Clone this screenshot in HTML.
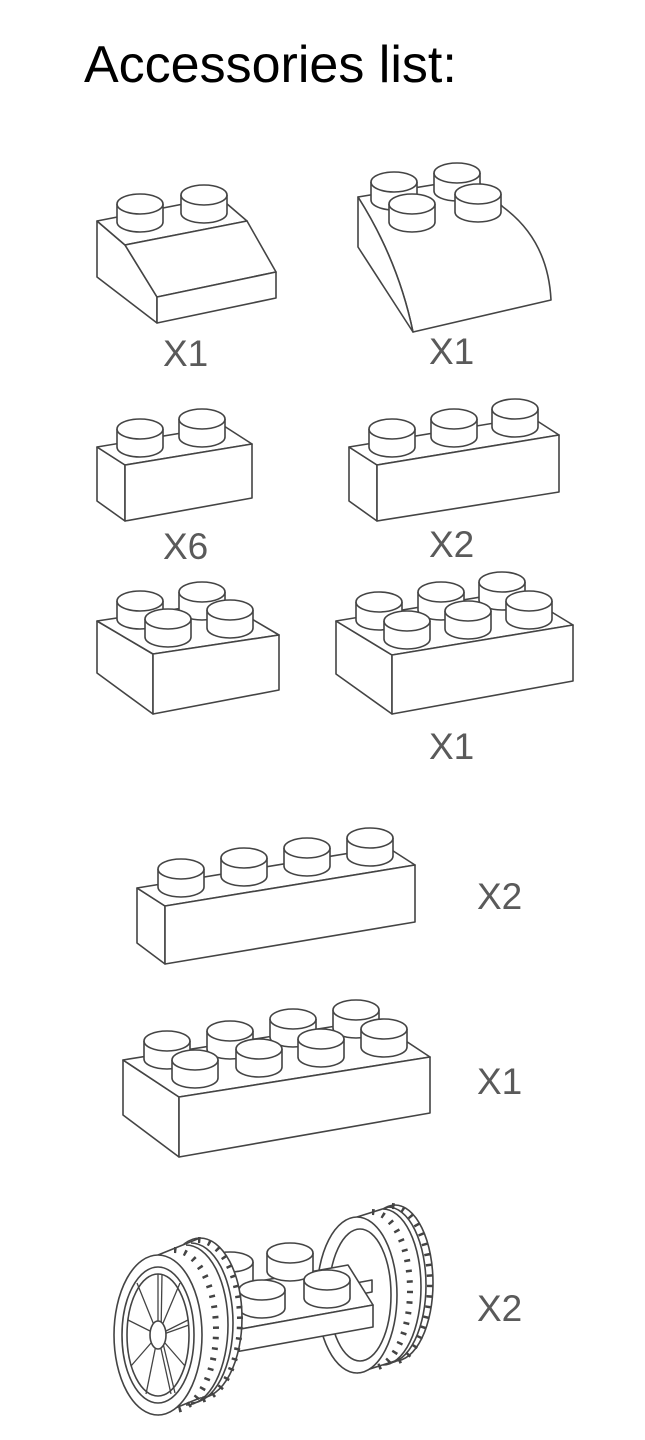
<!DOCTYPE html>
<html><head><meta charset="utf-8"><style>
html,body{margin:0;padding:0;background:#fff}
svg{display:block}
</style></head><body>
<svg width="645" height="1440" viewBox="0 0 645 1440" xmlns="http://www.w3.org/2000/svg">
<defs>
<g id="s"><path d="M-23 0V18A23 10 0 0 0 23 18V0" fill="#fff"/><ellipse rx="23" ry="10" fill="#fff"/></g>
</defs>
<text x="84" y="82" font-family="Liberation Sans, sans-serif" font-size="52" fill="#000">Accessories list:</text>
<g font-family="Liberation Sans, sans-serif" font-size="37" fill="#5a5a5a">
<text x="163" y="366">X1</text>
<text x="429" y="364">X1</text>
<text x="163" y="559">X6</text>
<text x="429" y="557">X2</text>
<text x="429" y="759">X1</text>
<text x="477" y="909">X2</text>
<text x="477" y="1094">X1</text>
<text x="477" y="1321">X2</text>
</g>
<g fill="#fff" stroke="#444" stroke-width="1.6" stroke-linejoin="round">
<!-- brick 1 slope -->
<polygon points="97,221 125,245 157,297 157,323 97,277"/>
<polygon points="97,221 219,197 247,221 125,245"/>
<polygon points="125,245 247,221 276,272 157,297"/>
<polygon points="157,297 276,272 276,298 157,323"/>
<use href="#s" x="140" y="204"/><use href="#s" x="204" y="195"/>
<!-- brick 2 curved -->
<path d="M358,197 L475,178 L503,207 Q548,240 551,300 L413,332 Q398,260 358,197 Z"/>
<path d="M358,197 L358,247 L413,332 Q398,260 358,197 Z"/>
<use href="#s" x="394" y="182"/><use href="#s" x="457" y="173"/>
<use href="#s" x="412" y="204"/><use href="#s" x="478" y="194"/>
<!-- brick 3 -->
<polygon points="97,447 125,465 125,521 97,501"/>
<polygon points="97,447 224,426 252,444 125,465"/>
<polygon points="125,465 252,444 252,498 125,521"/>
<use href="#s" x="140" y="429"/><use href="#s" x="202" y="419"/>
<!-- brick 4 -->
<polygon points="349,447 377,465 377,521 349,501"/>
<polygon points="349,447 531,417 559,435 377,465"/>
<polygon points="377,465 559,435 559,492 377,521"/>
<use href="#s" x="392" y="429"/><use href="#s" x="454" y="419"/><use href="#s" x="515" y="409"/>
<!-- brick 5 -->
<polygon points="97,621 153,654 153,714 97,673"/>
<polygon points="97,621 223,602 279,635 153,654"/>
<polygon points="153,654 279,635 279,690 153,714"/>
<use href="#s" x="140" y="601"/><use href="#s" x="202" y="592"/>
<use href="#s" x="168" y="619"/><use href="#s" x="230" y="610"/>
<!-- brick 6 -->
<polygon points="336,621 392,655 392,714 336,674"/>
<polygon points="336,621 517,591 573,625 392,655"/>
<polygon points="392,655 573,625 573,681 392,714"/>
<use href="#s" x="379" y="602"/><use href="#s" x="441" y="592"/><use href="#s" x="502" y="582"/>
<use href="#s" x="407" y="621"/><use href="#s" x="468" y="611"/><use href="#s" x="529" y="601"/>
<!-- brick 7 -->
<polygon points="137,888 165,906 165,964 137,943"/>
<polygon points="137,888 387,847 415,865 165,906"/>
<polygon points="165,906 415,865 415,922 165,964"/>
<use href="#s" x="181" y="869"/><use href="#s" x="244" y="858"/><use href="#s" x="307" y="848"/><use href="#s" x="370" y="838"/>
<!-- brick 8 -->
<polygon points="123,1060 179,1097 179,1157 123,1115"/>
<polygon points="123,1060 374,1020 430,1057 179,1097"/>
<polygon points="179,1097 430,1057 430,1113 179,1157"/>
<use href="#s" x="167" y="1041"/><use href="#s" x="230" y="1031"/><use href="#s" x="293" y="1019"/><use href="#s" x="356" y="1010"/>
<use href="#s" x="195" y="1060"/><use href="#s" x="259" y="1049"/><use href="#s" x="321" y="1039"/><use href="#s" x="384" y="1029"/>

<!-- right wheel -->
<ellipse cx="395" cy="1283" rx="38" ry="78"/>
<polygon points="357,1217 395,1205 395,1361 357,1373" stroke="none"/>
<line x1="357" y1="1217" x2="395" y2="1205"/><line x1="357" y1="1373" x2="395" y2="1361"/>
<path d="M383,1209 A38 78 0 0 1 383,1365" fill="none"/>
<path d="M388,1207 A38 78 0 0 1 388,1363" fill="none"/>
<path d="M372,1212 A38 78 0 0 1 372,1368" fill="none" stroke-width="6" stroke-dasharray="2.5 8"/>
<path d="M392,1206 A38 78 0 0 1 392,1362" fill="none" stroke-width="6" stroke-dasharray="2.5 8"/>
<ellipse cx="357" cy="1295" rx="40" ry="78"/>
<ellipse cx="360" cy="1295" rx="31" ry="66"/>
<!-- axle -->
<polygon points="345,1285 372,1280 372,1292 345,1297"/>
<!-- plate -->
<polygon points="210,1290 235,1330 235,1352 210,1312"/>
<polygon points="210,1290 348,1265 373,1305 235,1330"/>
<polygon points="235,1330 373,1305 373,1327 235,1352"/>
<use href="#s" x="230" y="1262"/><use href="#s" x="290" y="1253"/>
<use href="#s" x="262" y="1290"/><use href="#s" x="327" y="1280"/>
<!-- left wheel -->
<ellipse cx="200" cy="1318" rx="42" ry="80"/>
<polygon points="158,1253 200,1238 200,1398 158,1413" stroke="none"/>
<line x1="158" y1="1255" x2="200" y2="1238"/><line x1="158" y1="1415" x2="200" y2="1398"/>
<path d="M186,1245 A42 80 0 0 1 186,1405" fill="none"/>
<path d="M191,1243 A42 80 0 0 1 191,1403" fill="none"/>
<path d="M174,1250 A42 80 0 0 1 174,1410" fill="none" stroke-width="6" stroke-dasharray="2.5 8"/>
<path d="M198,1240 A42 80 0 0 1 198,1400" fill="none" stroke-width="6" stroke-dasharray="2.5 8"/>
<ellipse cx="158" cy="1335" rx="44" ry="80"/>
<ellipse cx="158" cy="1335" rx="36" ry="68"/>
<ellipse cx="158" cy="1335" rx="31" ry="61"/>
<g fill="none" stroke-width="1.3">
<line x1="158" y1="1335" x2="158" y2="1274"/>
<line x1="158" y1="1335" x2="180" y2="1283"/>
<line x1="158" y1="1335" x2="188" y2="1320"/>
<line x1="158" y1="1335" x2="185" y2="1366"/>
<line x1="158" y1="1335" x2="171" y2="1394"/>
<line x1="158" y1="1335" x2="146" y2="1394"/>
<line x1="158" y1="1335" x2="131" y2="1366"/>
<line x1="158" y1="1335" x2="128" y2="1320"/>
<line x1="158" y1="1335" x2="137" y2="1283"/>
<line x1="161" y1="1335" x2="162" y2="1274"/>
<line x1="161" y1="1335" x2="189" y2="1325"/>
<line x1="161" y1="1335" x2="175" y2="1393"/>
</g>
<ellipse cx="158" cy="1335" rx="8" ry="14"/>
</g>
</svg>
</body></html>
